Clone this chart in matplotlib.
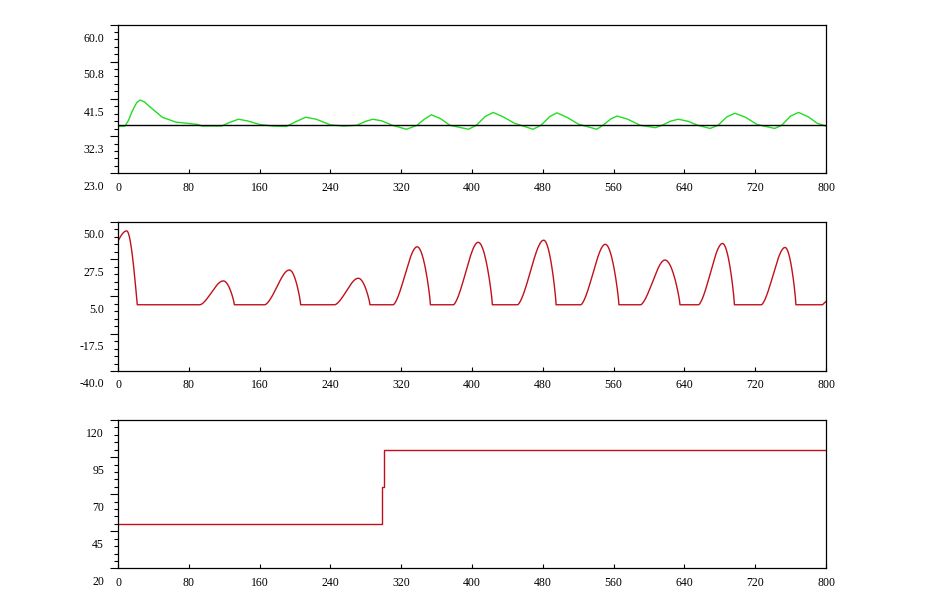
import numpy as np
import matplotlib
matplotlib.use("Agg")
import matplotlib.pyplot as plt
from matplotlib.ticker import AutoMinorLocator
import matplotlib.transforms as mtrans

# ---- data ----
x_ticks = [0, 80, 160, 240, 320, 400, 480, 560, 640, 720, 800]

# panel 1: green response and black reference
g_x = [0, 8, 12, 16, 21, 25, 30, 35, 50, 65, 90, 95, 117, 126, 136, 146, 160, 175, 190, 202, 212,
       224, 240, 255, 270, 280, 288, 298, 310, 326, 338, 346, 354, 364, 375, 396, 405, 415, 424,
       436, 448, 469, 478, 488, 496, 508, 520, 541, 548, 557, 564, 576, 590, 607, 615, 624, 633,
       644, 655, 669, 678, 688, 697, 709, 722, 742, 750, 760, 769, 780, 790, 800]
g_y = [34.7, 34.8, 36.3, 38.5, 40.6, 41.3, 40.8, 39.8, 37.0, 35.8, 35.2, 34.8, 34.8, 35.7, 36.5,
       36.1, 35.2, 34.8, 34.7, 36.0, 37.0, 36.5, 35.1, 34.8, 35.0, 36.0, 36.5, 36.1, 35.0, 34.0,
       35.0, 36.5, 37.6, 36.7, 35.0, 34.0, 35.0, 37.2, 38.2, 37.0, 35.5, 34.0, 35.0, 37.2, 38.1,
       36.9, 35.3, 34.0, 35.0, 36.6, 37.3, 36.5, 35.0, 34.4, 35.0, 36.0, 36.5, 36.0, 35.0, 34.2,
       35.0, 37.1, 38.0, 37.0, 35.2, 34.2, 35.0, 37.3, 38.2, 37.1, 35.5, 34.8]
ref_level = 35.0
y1_ticks = [23.0, 32.3, 41.5, 50.8, 60.0]

# panel 2: red humps (start, peak x, peak value, end)
base2 = 0.0
hump_start = [92.7, 166, 245, 311, 379, 451.5, 523, 590.6, 656, 727]
hump_peak_x = [119, 193.6, 271.5, 338, 407, 481, 550.6, 618, 683, 753.7]
hump_peak_y = [14.4, 21.0, 16.0, 35.0, 37.7, 39.0, 36.5, 27.0, 37.0, 34.6]
hump_end = [131.5, 206.4, 284.7, 353, 423, 495, 566, 635, 696.5, 766]
first_start_y, first_peak_x, first_peak_y, first_end = 38.5, 9.8, 44.6, 21.8
tail_start, tail_y_end = 796, 2.0
y2_ticks = [-40.0, -17.5, 5.0, 27.5, 50.0]

# panel 3: step signal
s_x = [0, 298.6, 298.6, 300, 300, 800]
s_y = [50, 50, 75, 75, 100, 100]
y3_ticks = [20, 45, 70, 95, 120]

# ---- build panel 2 curve ----
xs, ys = [], []
t = np.linspace(0, 1, 40)
xs += list(first_peak_x * t); ys += list(first_start_y + (first_peak_y - first_start_y) * np.sin(np.pi / 2 * t))
xs += list(first_peak_x + (first_end - first_peak_x) * t)
ys += list(base2 + (first_peak_y - base2) * np.cos(np.pi / 2 * t))
for s, px, py, e in zip(hump_start, hump_peak_x, hump_peak_y, hump_end):
    xs += list(s + (px - s) * t); ys += list(base2 + (py - base2) * np.sin(np.pi / 2 * t ** 1.5))
    xs += list(px + (e - px) * t); ys += list(base2 + (py - base2) * np.cos(np.pi / 2 * t) ** 0.8)
xs += [tail_start, 800]; ys += [base2, tail_y_end]
r_x = np.array(xs); r_y = np.array(ys)

fig = plt.figure(figsize=(9.44, 5.93), dpi=100)
L, W = 0.125, 0.75
axes = [fig.add_axes([L, 0.7077, W, 0.2500]),
        fig.add_axes([L, 0.3744, W, 0.2513]),
        fig.add_axes([L, 0.0416, W, 0.2501])]

ax1, ax2, ax3 = axes
ax1.plot(g_x, g_y, color="#22dd22", lw=1.0)
ax1.axhline(ref_level, color="black", lw=1.0)
ax1.set_ylim(23, 60)
ax1.set_yticks(y1_ticks)
ax1.set_yticklabels([f"{v:.1f}" for v in y1_ticks])

ax2.plot(r_x, r_y, color="#c0101a", lw=1.0)
ax2.set_ylim(-40, 50)
ax2.set_yticks(y2_ticks)
ax2.set_yticklabels([f"{v:.1f}" for v in y2_ticks])

ax3.plot(s_x, s_y, color="#c0101a", lw=1.0)
ax3.set_ylim(20, 120)
ax3.set_yticks(y3_ticks)
ax3.set_yticklabels([str(v) for v in y3_ticks])

off = mtrans.ScaledTranslation(0, -12 / 100, fig.dpi_scale_trans)
for ax in axes:
    ax.set_xlim(0, 800)
    ax.set_xticks(x_ticks)
    ax.set_xticklabels([str(v) for v in x_ticks])
    ax.yaxis.set_minor_locator(AutoMinorLocator(5))
    ax.tick_params(axis="y", which="major", direction="out", length=6, width=0.8, labelsize=8.5, pad=4)
    ax.tick_params(axis="y", which="minor", direction="out", length=3, width=0.8)
    ax.tick_params(axis="x", which="major", direction="in", length=3, width=0.8, labelsize=8.5, pad=6)
    for lab in ax.get_yticklabels():
        lab.set_transform(lab.get_transform() + off)
        lab.set_fontfamily("Liberation Serif")
    for lab in ax.get_xticklabels():
        lab.set_fontfamily("Liberation Serif")
    for sp in ax.spines.values():
        sp.set_linewidth(0.9)

fig.savefig("out.png", dpi=100)
